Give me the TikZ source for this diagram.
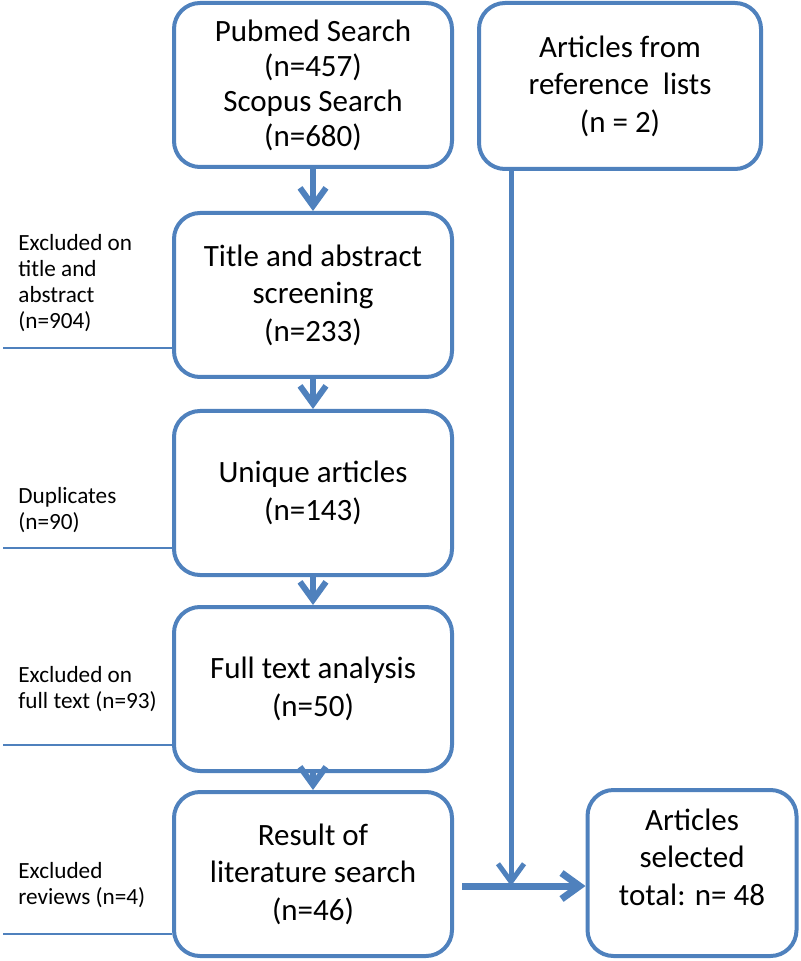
\documentclass[tikz,border=0pt]{standalone}
\usepackage{fontspec}
\setmainfont{Carlito}
\usetikzlibrary{arrows.meta}
\definecolor{flowblue}{RGB}{79,129,189}
\tikzset{
        box/.style={draw=flowblue, line width=2pt, rounded corners=13pt, align=center,
          minimum width=139pt, minimum height=82pt, inner sep=2pt,
          font=\fontsize{15.5pt}{18.8pt}\selectfont},
        note/.style={anchor=west, align=left, inner sep=0pt, font=\fontsize{11.6pt}{13pt}\selectfont},
        flow/.style={draw=flowblue, line width=3pt, -{Straight Barb[length=9pt, width=13pt]}},
        feed/.style={draw=flowblue, line width=2.5pt},
        cut/.style={draw=flowblue, line width=1pt}
          }
\begin{document}
\begin{tikzpicture}[x=0.5pt, y=-0.5pt]
        \useasboundingbox (0,0) rectangle (800,961);
        % main column
        \node[box, font=\fontsize{15.5pt}{17.5pt}\selectfont] (pubmed) at (313,85) {Pubmed Search\\(n=457)\\Scopus Search\\(n=680)};
        \node[box] (screen) at (313,295) {Title and abstract\\screening\\(n=233)};
        \node[box] (unique) at (313,493) {Unique articles\\(n=143)};
        \node[box] (fulltext) at (313,689) {Full text analysis\\(n=50)};
        \node[box] (result) at (313,874) {Result of\\literature search\\(n=46)};
        % right column
        \node[box, minimum width=141pt, minimum height=83pt] (reflists) at (620,86) {Articles from\\reference~ lists\\(n = 2)};
        \node[box, minimum width=104.5pt, minimum height=83pt, text depth=16pt] (selected) at (692,873) {Articles\\selected\\total: n= 48};

        \draw[flow] (pubmed) -- (screen);
        \draw[flow] (screen) -- (unique);
        \draw[flow] (unique) -- (fulltext);
        \draw[flow] (fulltext) -- (result);

        \coordinate (merge) at (511,886);
        \coordinate (start) at (462,886);
        \draw[feed, -{Straight Barb[length=9pt, width=13pt]}] (reflists.south -| merge) -- (merge);
        \draw[flow, line width=3.5pt] (start) -- (selected.west |- start);

        % exclusions on the left
        \node[note] (excl1) at (18,283) {Excluded on\\title and\\abstract\\(n=904)};
        \node[note] (excl2) at (18,510) {Duplicates\\(n=90)};
        \node[note] (excl3) at (18,689) {Excluded on\\full text (n=93)};
        \node[note] (excl4) at (18,885) {Excluded\\reviews (n=4)};

        \coordinate (cut1) at (3,348);
        \coordinate (cut2) at (3,548);
        \coordinate (cut3) at (3,745);
        \coordinate (cut4) at (3,934);
        \draw[cut] (cut1) -- (cut1 -| screen.west);
        \draw[cut] (cut2) -- (cut2 -| unique.west);
        \draw[cut] (cut3) -- (cut3 -| fulltext.west);
        \draw[cut] (cut4) -- (cut4 -| result.west);
      \end{tikzpicture}
\end{document}
